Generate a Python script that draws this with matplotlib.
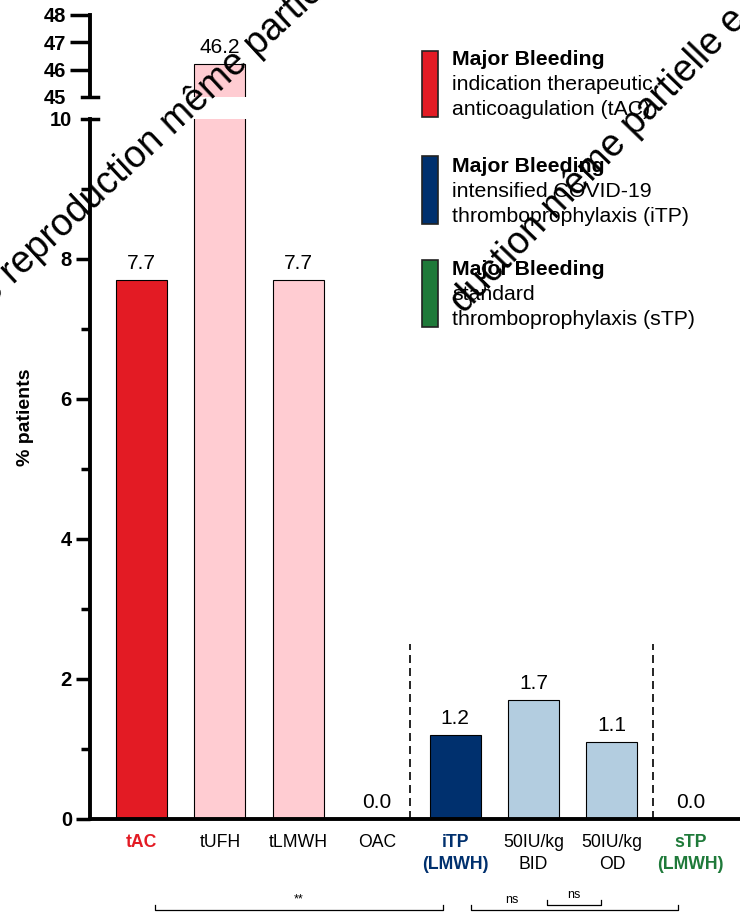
import numpy as np
import matplotlib
matplotlib.use("Agg")
import matplotlib.pyplot as plt
from matplotlib.patches import Rectangle
from matplotlib.lines import Line2D

plt.rcParams['font.family'] = ['Liberation Sans', 'DejaVu Sans']

# ---- data ----
groups = ['tAC', 'tUFH', 'tLMWH', 'OAC', 'iTP\n(LMWH)', '50IU/kg\nBID', '50IU/kg\nOD', 'sTP\n(LMWH)']
values = [7.7, 46.2, 7.7, 0.0, 1.2, 1.7, 1.1, 0.0]
bar_colors = ['#E31B24', '#FFCCD2', '#FFCCD2', '#FFCCD2', '#00306E', '#B3CDE0', '#B3CDE0', '#1F7A3A']
label_colors = ['#E31B24', 'black', 'black', 'black', '#00306E', 'black', 'black', '#1F7A3A']
label_bold = [True, False, False, False, True, False, False, True]

legend_head = 'Major Bleeding'
legend_body = ['indication therapeutic\nanticoagulation (tAC)',
               'intensified COVID-19\nthromboprophylaxis (iTP)',
               'standard\nthromboprophylaxis (sTP)']
legend_colors = ['#E31B24', '#00306E', '#1F7A3A']

separators = [3.42, 6.53]
# (x start, x end, text x, label)
brackets = [(0.17, 3.85, 2.01, '**'), (4.20, 6.84, 4.72, 'ns'), (5.17, 5.86, 5.52, 'ns')]

W, H = 740, 914
def fx(p):
    return p / W
def fy(p):
    return 1 - p / H

fig = plt.figure(figsize=(W / 100, H / 100), dpi=100)
ax = fig.add_axes([fx(90), fy(819), 1 - fx(90), (819 - 119) / H])
axt = fig.add_axes([fx(90), fy(97), 1 - fx(90), (97 - 15) / H])

x = np.arange(len(groups))
xlim = (-0.657, 7.634)

for a in (ax, axt):
    a.bar(x, values, width=0.65, color=bar_colors, edgecolor='black', linewidth=0.8, zorder=2)
    a.set_xlim(*xlim)
    a.spines['top'].set_visible(False)
    a.spines['right'].set_visible(False)
    a.spines['left'].set_linewidth(2.8)
    a.set_facecolor('none')

# lower axis
ax.set_ylim(0, 10)
ax.spines['bottom'].set_linewidth(2.8)
ax.set_yticks(np.arange(0, 11, 2))
ax.set_yticks(np.arange(1, 10, 2), minor=True)
ax.tick_params(axis='y', which='major', length=10, width=2.5, pad=3, labelsize=14.5)
ax.tick_params(axis='y', which='minor', length=6.5, width=2.5)
for lab in ax.get_yticklabels():
    lab.set_fontweight('bold')
ax.yaxis.get_major_ticks()[-1].tick1line.set_visible(False)
ax.set_xticks(x)
ax.set_xticklabels(groups, fontsize=12.7, linespacing=1.35)
ax.tick_params(axis='x', length=0, pad=11)
for lab, c, b in zip(ax.get_xticklabels(), label_colors, label_bold):
    lab.set_color(c)
    lab.set_fontweight('bold' if b else 'normal')

# upper axis
axt.set_ylim(45, 48)
axt.spines['bottom'].set_visible(False)
axt.set_yticks([45, 46, 47, 48])
axt.tick_params(axis='y', length=14.4, width=2.5, pad=3, labelsize=14.5)
for lab in axt.get_yticklabels():
    lab.set_fontweight('bold')
axt.yaxis.get_major_ticks()[0].tick1line.set_visible(False)
axt.set_xticks([])

# axis break marks
for yb in (97, 119):
    fig.add_artist(Line2D([fx(82), fx(98)], [fy(yb), fy(yb)], lw=2.5, color='black'))

# value labels
for xi, v in zip(x, values):
    target = axt if v > 10 else ax
    target.annotate(f'{v:.1f}', (xi, v), xytext=(0, 8), textcoords='offset points',
                    ha='center', va='baseline', fontsize=15, zorder=3)

# dashed group separators
for s in separators:
    ax.plot([s, s], [0, 2.5], color='black', lw=1.2, linestyle=(0, (4.8, 3)), zorder=1)

# significance brackets below the axis
for i, (x0, x1, xt, txt) in enumerate(brackets):
    yl = -1.30 if i < 2 else -1.23
    ax.plot([x0, x0, x1, x1], [yl + 0.07, yl, yl, yl + 0.07], color='black', lw=0.9, clip_on=False)
    ax.text(xt, yl + 0.06, txt, ha='center', va='bottom', fontsize=9)

fig.text(fx(26), fy(417), '% patients', rotation=90, ha='center', va='center',
         fontsize=14, fontweight='bold')

# legend
rect_tops = [51, 156, 260]
rect_bots = [117, 224, 327]
head_base = [65, 172, 275]
for c, body, t, b, hb in zip(legend_colors, legend_body, rect_tops, rect_bots, head_base):
    fig.add_artist(Rectangle((fx(422), fy(b)), fx(438) - fx(422), (b - t) / H,
                             facecolor=c, edgecolor='#222222', lw=1.2))
    fig.text(fx(452), fy(hb), legend_head, fontsize=15.3, fontweight='bold', va='baseline')
    for k, line in enumerate(body.split('\n')):
        fig.text(fx(452), fy(hb + 25 * (k + 1)), line, fontsize=15.3, va='baseline')

# watermark
fig.text(fx(-9), fy(306), 'e reproduction même partielle', rotation=43, rotation_mode='anchor',
         ha='left', va='baseline', fontsize=27, color='black', zorder=10)
fig.text(fx(464), fy(314), 'duction même partielle e', rotation=46, rotation_mode='anchor',
         ha='left', va='baseline', fontsize=27, color='black', zorder=10)

fig.savefig('out.png', dpi=100)
